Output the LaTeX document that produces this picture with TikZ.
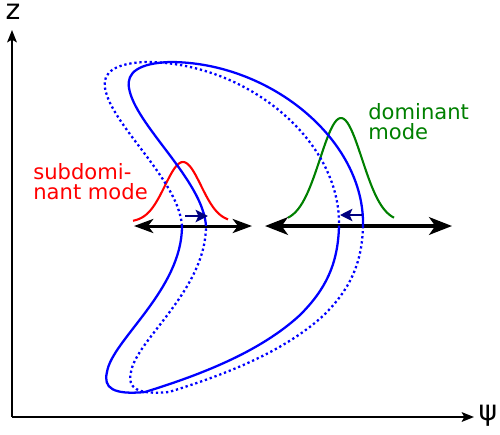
\documentclass[tikz,border=0pt]{standalone}
\usepackage{fontspec}
\setmainfont{DejaVu Sans}
\usetikzlibrary{arrows.meta}

\begin{document}
\begin{tikzpicture}[x=0.02cm, y=-0.02cm,
  axis/.style={line width=1.1pt, -{Stealth[length=7pt, width=5.5pt, inset=1.5pt]}},
  solidline/.style={blue, line width=1.3pt},
  dotline/.style={blue, line width=1.3pt, dash pattern=on 1.3pt off 1.6pt},
  mode/.style={line width=1.2pt},
  push/.style={color={rgb,255:red,0;green,0;blue,128}, line width=1.5pt, -{Stealth[length=7pt, width=7pt, inset=1.5pt]}},
  label/.style={font=\fontsize{12}{11.4}\selectfont, align=left, anchor=north west, inner sep=0pt}]
\useasboundingbox (0,0) rectangle (500,434);

% Axes
\draw[axis] (12,417) -- (12,30);
\draw[axis] (12,417) -- (474,417);
\node[font=\fontsize{16}{16}\selectfont] (zlab) at (13,12) {z};
\node[font=\fontsize{16}{16}\selectfont] (psilab) at (488,416) {ψ};

% Modes
\draw[red, mode] plot[domain=133:228, samples=60] (\x, {222-60*exp(-((\x-183)/18)^2/2)});
\draw[green!50!black, mode] plot[domain=288:394, samples=60] (\x, {222-104*exp(-((\x-341)/21)^2/2)});
\node[label, red] (sub) at (33,163) {subdomi-\\nant mode};
\node[label, green!50!black] (dom) at (368,103) {dominant\\mode};

% Double arrows
\draw[line width=1.7pt, {Stealth[length=11pt, width=8pt, inset=3pt]}-{Stealth[length=11pt, width=8pt, inset=3pt]}] (134,226) -- (252,226);
\draw[line width=2.2pt, {Stealth[length=13pt, width=10pt, inset=3.5pt]}-{Stealth[length=13pt, width=10pt, inset=3.5pt]}] (265,226) -- (452,226);

% Crescents: upper and lower halves shifted in opposite directions
\foreach \up/\down/\look in {12/-12/solidline, -12/12/dotline} {
  \draw[\look, shift={(\up,0)}] (194,226) .. controls (191,180) and (123,125) .. (117,88)
    .. controls (114,72) and (128,63) .. (158,62)
    .. controls (258,62) and (353,140) .. (351,226);
  \draw[\look, shift={(\down,0)}] (351,226) .. controls (350,265) and (337,290) .. (312,315)
    .. controls (272,352) and (212,375) .. (157,392)
    .. controls (125,395) and (115,388) .. (119,372)
    .. controls (124,340) and (194,290) .. (194,226);
}

% Shifts
\draw[push] (185,216) -- (208,216);
\draw[push] (362,215) -- (340,215);
\end{tikzpicture}
\end{document}
